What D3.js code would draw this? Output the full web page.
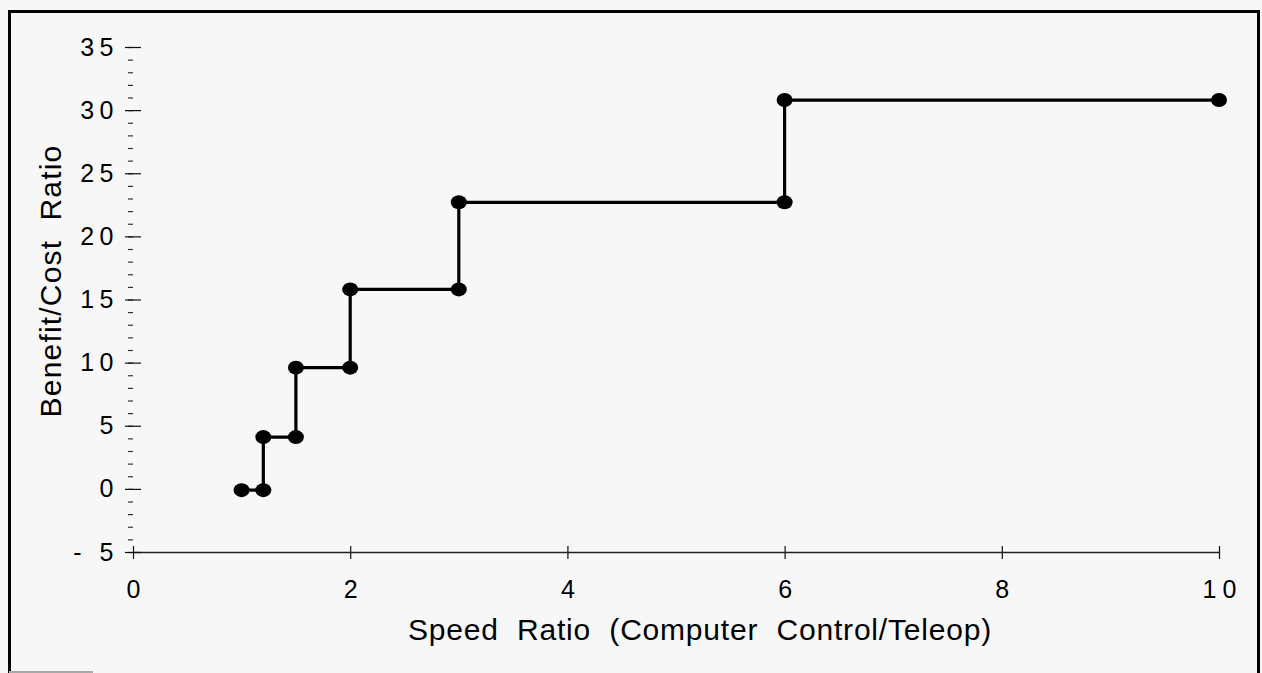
<!DOCTYPE html>
<html>
<head>
<meta charset="utf-8">
<script src="https://cdn.jsdelivr.net/npm/d3@7"></script>
<style>
  body { margin: 0; background: #f7f7f7; }
  svg { display: block; }
  text { font-family: "Liberation Sans", Arial, Helvetica, sans-serif; fill: #000; }
</style>
</head>
<body>
<div id="chart"></div>
<script>
// === Data ===
const speedRatio  = [1, 1.2, 1.2, 1.5, 1.5, 2, 2, 3, 3, 6, 6, 10];
const benefitCost = [-0.1, -0.1, 4.1, 4.1, 9.6, 9.6, 15.8, 15.8, 22.7, 22.7, 30.8, 30.8];
const xTicks = [0, 2, 4, 6, 8, 10];
const yTicks = [-5, 0, 5, 10, 15, 20, 25, 30, 35];
const yMinorTicks = d3.range(-5, 36, 1);

const width = 1262, height = 673;

const svg = d3.select("#chart").append("svg")
    .attr("width", width).attr("height", height);

svg.append("rect").attr("width", width).attr("height", height).attr("fill", "#f7f7f7");

// frame (open at the bottom, like the scan)
svg.append("path")
    .attr("d", "M9.5,673 V11.5 H1258.5 V673")
    .attr("fill", "none").attr("stroke", "#000").attr("stroke-width", 3);
svg.append("line")
    .attr("x1", 9).attr("x2", 93).attr("y1", 672).attr("y2", 672)
    .attr("stroke", "#aaa").attr("stroke-width", 2);

const x = d3.scaleLinear().domain([0, 10]).range([133, 1219]);
const y = d3.scaleLinear().domain([-5, 35]).range([552, 47]);

// x axis
const gx = svg.append("g").attr("transform", `translate(0,${y(-5)})`)
    .call(d3.axisBottom(x).tickValues(xTicks).tickSize(8).tickPadding(20));
gx.select(".domain").remove();
gx.append("line")
    .attr("x1", x(0)).attr("x2", x(10)).attr("y1", 0.5).attr("y2", 0.5)
    .attr("stroke", "#222").attr("stroke-width", 1.4);
gx.selectAll(".tick line").attr("y1", -6).attr("y2", 7).attr("stroke", "#111").attr("stroke-width", 1.2);
gx.selectAll(".tick text")
    .attr("font-size", 25).attr("dx", 3)
    .style("letter-spacing", "6px")
    .style("font-family", "'Liberation Sans', Arial, sans-serif")
    .attr("fill", "#000");

// y axis: minor ticks, then major ticks with labels, no axis line
const gyMinor = svg.append("g").attr("transform", `translate(133,0)`)
    .call(d3.axisLeft(y).tickValues(yMinorTicks).tickSize(5).tickFormat(""));
gyMinor.select(".domain").remove();
gyMinor.selectAll(".tick line").attr("stroke", "#333").attr("stroke-width", 1.2);

const gy = svg.append("g").attr("transform", `translate(141,0)`)
    .call(d3.axisLeft(y).tickValues(yTicks).tickSize(16).tickPadding(6)
        .tickFormat(d => d < 0 ? "- " + Math.abs(d) : d));
gy.select(".domain").remove();
gy.selectAll(".tick line").attr("stroke", "#111").attr("stroke-width", 1.2);
gy.selectAll(".tick text")
    .attr("font-size", 25)
    .style("letter-spacing", "5.5px")
    .style("white-space", "pre")
    .style("font-family", "'Liberation Sans', Arial, sans-serif")
    .attr("fill", "#000");

// axis titles
svg.append("text")
    .attr("x", 700).attr("y", 640)
    .attr("text-anchor", "middle")
    .attr("font-size", 30)
    .style("letter-spacing", "0.8px")
    .style("white-space", "pre")
    .text("Speed  Ratio  (Computer  Control/Teleop)");

svg.append("text")
    .attr("transform", "translate(61,281) rotate(-90)")
    .attr("text-anchor", "middle")
    .attr("font-size", 30)
    .style("letter-spacing", "1.2px")
    .style("white-space", "pre")
    .text("Benefit/Cost  Ratio");

// step line and markers
const points = speedRatio.map((s, i) => ({ s, b: benefitCost[i] }));

const line = d3.line()
    .x(d => x(d.s))
    .y(d => y(d.b));

svg.append("path").datum(points)
    .attr("d", line)
    .attr("fill", "none")
    .attr("stroke", "#000")
    .attr("stroke-width", 3.2);

svg.selectAll("ellipse.pt")
    .data(points)
    .join("ellipse")
    .attr("class", "pt")
    .attr("cx", d => x(d.s))
    .attr("cy", d => y(d.b))
    .attr("rx", 8).attr("ry", 7)
    .attr("fill", "#000");
</script>
</body>
</html>
